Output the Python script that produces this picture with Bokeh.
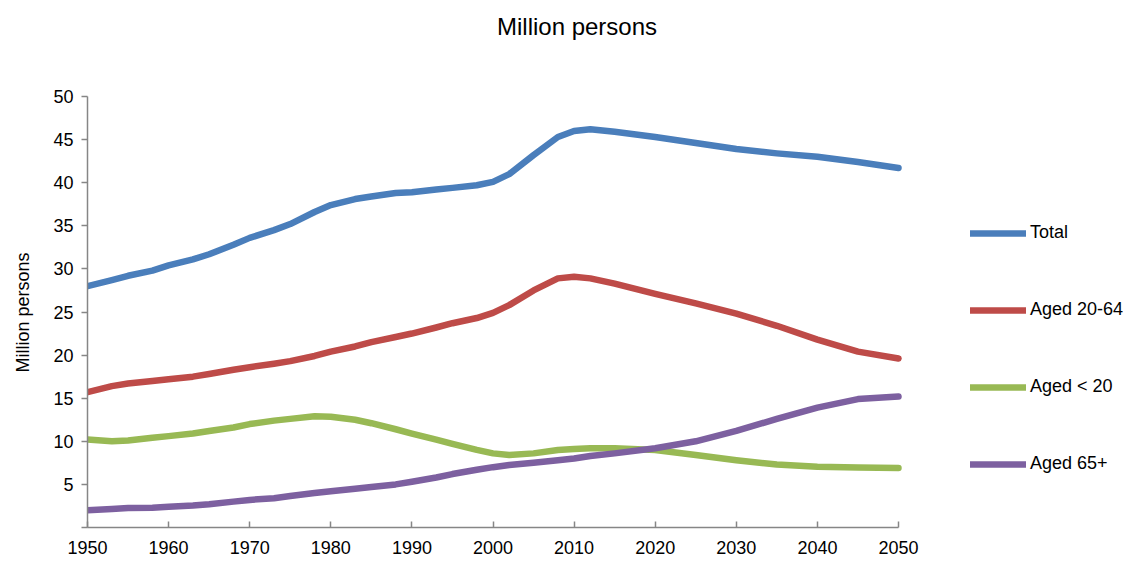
import math
from bokeh.plotting import figure
from bokeh.models import (Range1d, FixedTicker, LinearAxis, Legend, LegendItem, Label)
from bokeh.embed import file_html
from bokeh.resources import INLINE

# Population by age group, million persons
years = [1950, 1953, 1955, 1958, 1960, 1963, 1965, 1968, 1970, 1973, 1975, 1978,
         1980, 1983, 1985, 1988, 1990, 1993, 1995, 1998, 2000, 2002, 2005, 2008,
         2010, 2012, 2015, 2020, 2025, 2030, 2035, 2040, 2045, 2050]

total = [28.0, 28.7, 29.2, 29.8, 30.4, 31.1, 31.7, 32.8, 33.6, 34.5, 35.2, 36.6,
         37.4, 38.1, 38.4, 38.8, 38.9, 39.2, 39.4, 39.7, 40.1, 41.0, 43.2, 45.3,
         46.0, 46.2, 45.9, 45.3, 44.6, 43.9, 43.4, 43.0, 42.4, 41.7]

aged_20_64 = [15.7, 16.4, 16.7, 17.0, 17.2, 17.5, 17.8, 18.3, 18.6, 19.0, 19.3, 19.9,
              20.4, 21.0, 21.5, 22.1, 22.5, 23.2, 23.7, 24.3, 24.9, 25.8, 27.5, 28.9,
              29.1, 28.9, 28.3, 27.1, 26.0, 24.8, 23.4, 21.8, 20.4, 19.6]

aged_under_20 = [10.2, 10.0, 10.1, 10.4, 10.6, 10.9, 11.2, 11.6, 12.0, 12.4, 12.6, 12.9,
                 12.85, 12.5, 12.1, 11.4, 10.9, 10.2, 9.7, 9.0, 8.6, 8.4, 8.6, 9.0,
                 9.1, 9.2, 9.2, 9.0, 8.4, 7.8, 7.3, 7.05, 6.95, 6.9]

aged_65_plus = [2.0, 2.15, 2.25, 2.3, 2.4, 2.55, 2.7, 3.0, 3.2, 3.4, 3.65, 4.0,
                4.2, 4.5, 4.7, 5.0, 5.3, 5.8, 6.2, 6.7, 7.0, 7.25, 7.5, 7.8,
                8.0, 8.3, 8.6, 9.2, 10.0, 11.2, 12.6, 13.9, 14.9, 15.2]

series_names = ["Total", "Aged 20-64", "Aged < 20", "Aged 65+"]
series_values = [total, aged_20_64, aged_under_20, aged_65_plus]
series_colors = ["#4A7EBB", "#BE4B48", "#98B954", "#7D60A0"]

x_ticks = list(range(1950, 2051, 10))
y_ticks = list(range(0, 51, 5))
y_title = "Million persons"

FONT = "Liberation Sans"
AXIS_COLOR = "#868686"

# The frame reaches the right and top edges of the canvas so that the legend
# and the heading can sit inside it; the axes themselves stop at 2050 and 50.
X_END = 1950 + 1039 / 8.11
Y_END = 527 / 8.62
# anchor of the rotated axis title (its upper end), so the text is centred on 0-50
Y_TITLE_AT = 31.9

p = figure(width=1126, height=561, output_backend="svg", toolbar_location=None,
           x_range=Range1d(1950, X_END), y_range=Range1d(0, Y_END),
           x_axis_type=None, y_axis_type=None,
           min_border_left=87, min_border_right=0, min_border_top=0,
           min_border_bottom=34)
p.outline_line_color = None
p.background_fill_color = "white"
p.border_fill_color = "white"
p.xgrid.visible = False
p.ygrid.visible = False

xaxis = LinearAxis(ticker=FixedTicker(ticks=x_ticks), bounds=(1950, 2050))
xaxis.major_tick_in = 6
xaxis.major_tick_out = 0
xaxis.minor_tick_line_color = None
xaxis.axis_line_color = AXIS_COLOR
xaxis.axis_line_width = 1.5
xaxis.major_tick_line_color = AXIS_COLOR
xaxis.major_tick_line_width = 1.5
xaxis.major_label_text_font = FONT
xaxis.major_label_text_font_size = "18px"
xaxis.major_label_text_color = "#000000"
xaxis.major_label_standoff = 13
p.add_layout(xaxis, "below")

yaxis = LinearAxis(ticker=FixedTicker(ticks=y_ticks), bounds=(0, 50))
yaxis.major_label_overrides = {0: ""}
yaxis.major_tick_in = 0
yaxis.major_tick_out = 6
yaxis.minor_tick_line_color = None
yaxis.axis_line_color = AXIS_COLOR
yaxis.axis_line_width = 1.5
yaxis.major_tick_line_color = AXIS_COLOR
yaxis.major_tick_line_width = 1.5
yaxis.major_label_text_font = FONT
yaxis.major_label_text_font_size = "18px"
yaxis.major_label_text_color = "#000000"
yaxis.major_label_standoff = 8
p.add_layout(yaxis, "left")

# axis title for the value axis
ytitle_axis = LinearAxis(ticker=FixedTicker(ticks=[Y_TITLE_AT]),
                         major_label_overrides={Y_TITLE_AT: y_title})
ytitle_axis.axis_line_color = None
ytitle_axis.major_tick_line_color = None
ytitle_axis.minor_tick_line_color = None
ytitle_axis.major_tick_in = 0
ytitle_axis.major_tick_out = 0
ytitle_axis.major_label_orientation = math.pi / 2
ytitle_axis.major_label_text_font = FONT
ytitle_axis.major_label_text_font_size = "18px"
ytitle_axis.major_label_text_color = "#000000"
ytitle_axis.major_label_standoff = 27
p.add_layout(ytitle_axis, "left")

items = []
for name, vals, color in zip(series_names, series_values, series_colors):
    r = p.line(years, vals, line_color=color, line_width=6.5,
               line_cap="round", line_join="round")
    items.append(LegendItem(label=name, renderers=[r]))

legend = Legend(items=items, location=(883, 53), orientation="vertical",
                glyph_width=56, glyph_height=20, label_height=20,
                label_standoff=4, spacing=56, padding=0, margin=0,
                label_text_font=FONT, label_text_font_size="18px",
                label_text_color="#000000",
                border_line_color=None, background_fill_alpha=0)
p.add_layout(legend, "center")

heading = Label(x=2010.36, y=58.12, text="Million persons",
                text_align="center", text_baseline="middle",
                text_font=FONT, text_font_size="24px", text_color="#000000")
p.add_layout(heading)

open("out.html", "w").write(file_html(p, INLINE))
